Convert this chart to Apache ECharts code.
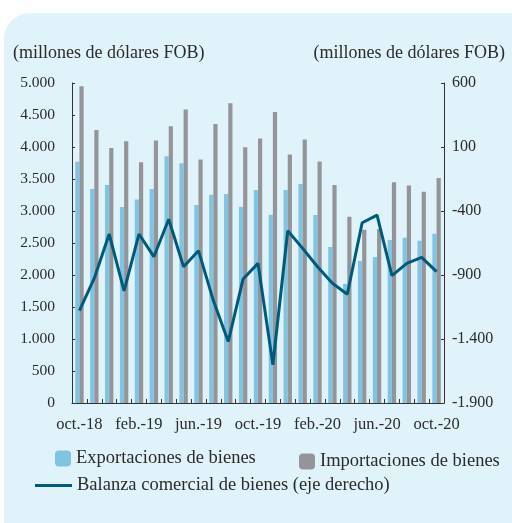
<!DOCTYPE html>
<html><head><meta charset="utf-8">
<script src="https://cdn.jsdelivr.net/npm/echarts@6/dist/echarts.min.js"></script>
<style>html,body{margin:0;padding:0;background:#fff}#c{width:512px;height:523px}</style>
</head><body><div id="c"></div>
<script>
const categories = ['oct.-18','nov.-18','dic.-18','ene.-19','feb.-19','mar.-19','abr.-19','may.-19','jun.-19','jul.-19','ago.-19','sep.-19','oct.-19','nov.-19','dic.-19','ene.-20','feb.-20','mar.-20','abr.-20','may.-20','jun.-20','jul.-20','ago.-20','sep.-20','oct.-20'];
const exportaciones = [3768,3342,3405,3062,3181,3342,3857,3748,3093,3254,3264,3067,3327,2942,3327,3420,2937,2438,1861,2219,2282,2547,2583,2536,2645];
const importaciones = [4948,4267,3986,4091,3763,4101,4325,4585,3805,4361,4684,3997,4133,4548,3883,4117,3774,3405,2911,2708,2719,3451,3400,3300,3514];
const balanza = [-1178,-925,-580,-1024,-580,-757,-465,-835,-710,-1100,-1420,-931,-809,-1601,-554,-692,-835,-965,-1050,-492,-432,-905,-809,-762,-874];
const leftTicks = {min:0, max:5000, interval:500};
const rightTicks = {min:-1900, max:600, interval:500};

const FONT = '"Liberation Serif", "DejaVu Serif", serif';
const TXT = '#2b2b2b';
const fmt = v => { const s = Math.abs(v).toString().replace(/\B(?=(\d{3})+(?!\d))/g, '.'); return (v < 0 ? '-' : '') + s; };
const chart = echarts.init(document.getElementById('c'));
const axisLine = {show:true, lineStyle:{color:'#333', width:1}};
chart.setOption({
  animation:false,
  backgroundColor:'#ffffff',
  graphic:[{type:'rect', z:-10, shape:{x:4, y:13, width:540, height:540, r:[26,26,0,26]}, style:{fill:'#e0f2fa'}}],
  title:[
    {text:'(millones de dólares FOB)', left:8, top:39, textStyle:{fontFamily:FONT, fontSize:18, fontWeight:'normal', color:TXT}},
    {text:'(millones de dólares FOB)', right:2, top:39, textStyle:{fontFamily:FONT, fontSize:18, fontWeight:'normal', color:TXT}}
  ],
  legend:[
    {data:['Exportaciones de bienes'], left:50, top:444, itemWidth:16, itemHeight:16, itemGap:7, textStyle:{fontFamily:FONT, fontSize:18.5, color:TXT}},
    {data:['Importaciones de bienes'], left:294, top:447, itemWidth:16, itemHeight:16, itemGap:6, textStyle:{fontFamily:FONT, fontSize:18.5, color:TXT}},
    {data:[{name:'Balanza comercial de bienes (eje derecho)', icon:'rect'}], left:30, top:471, itemWidth:37, itemHeight:3, itemGap:4, textStyle:{fontFamily:FONT, fontSize:18.5, color:TXT}}
  ],
  grid:{left:72, right:68, top:83, bottom:120, containLabel:false},
  xAxis:{type:'category', data:categories, boundaryGap:true,
    axisLine:axisLine,
    axisTick:{show:true, inside:true, length:4, interval:0, alignWithLabel:false, lineStyle:{color:'#333'}},
    axisLabel:{interval:3, margin:13, fontFamily:FONT, fontSize:16.5, color:TXT},
    splitLine:{show:false}},
  yAxis:[
    {type:'value', min:leftTicks.min, max:leftTicks.max, interval:leftTicks.interval, position:'left',
     axisLine:axisLine, axisTick:{show:true, inside:true, length:3, lineStyle:{color:'#333'}},
     axisLabel:{margin:17, fontFamily:FONT, fontSize:15.5, color:TXT, formatter:fmt}, splitLine:{show:false}},
    {type:'value', min:rightTicks.min, max:rightTicks.max, interval:rightTicks.interval, position:'right',
     axisLine:axisLine, axisTick:{show:true, inside:true, length:3, lineStyle:{color:'#333'}},
     axisLabel:{margin:8, fontFamily:FONT, fontSize:16, color:TXT, formatter:fmt}, splitLine:{show:false}}
  ],
  series:[
    {name:'Exportaciones de bienes', type:'bar', data:exportaciones, barWidth:4.2, barGap:'0%', itemStyle:{color:'#80c4e3'}},
    {name:'Importaciones de bienes', type:'bar', data:importaciones, barWidth:4.2, barGap:'0%', itemStyle:{color:'#949598'}},
    {name:'Balanza comercial de bienes (eje derecho)', type:'line', yAxisIndex:1, data:balanza, symbol:'none', lineStyle:{color:'#005b7b', width:3}, itemStyle:{color:'#005b7b'}, z:5}
  ]
});
</script></body></html>
